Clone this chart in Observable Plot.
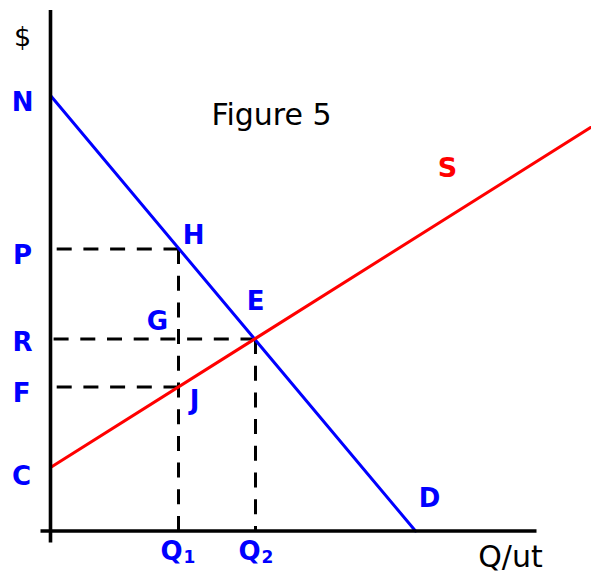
<!DOCTYPE html>
<html>
<head>
<meta charset="utf-8">
<script src="https://cdn.jsdelivr.net/npm/d3@7"></script>
<script src="https://cdn.jsdelivr.net/npm/@observablehq/plot@0.6"></script>
<style>
  html, body { margin: 0; padding: 0; background: #fff; }
</style>
</head>
<body>
<div id="chart"></div>
<script>
// Economic values (price in $, quantity in units/time)
const demandQ = [0, 36.5];
const demandP = [43.55, 0];
const supplyQ = [0, 54];
const supplyP = [6.35, 40.35];
const Q1 = 12.8, Q2 = 20.5;
const priceP = 28.2, priceR = 19.2, priceF = 14.4;
const axisMaxP = 52.1, axisMinP = -1.15, axisMinQ = -1, axisMaxQ = 48.6;

const demand = demandQ.map((q, i) => ({q, p: demandP[i]}));
const supply = supplyQ.map((q, i) => ({q, p: supplyP[i]}));

const dashed = [
  {x1: Q1, y1: priceP, x2: 0, y2: priceP},
  {x1: Q1, y1: priceP, x2: Q1, y2: 0},
  {x1: Q2, y1: priceR, x2: 0, y2: priceR},
  {x1: Q2, y1: priceR, x2: Q2, y2: 0},
  {x1: Q1, y1: priceF, x2: 0, y2: priceF}
];

const axes = [
  {x1: 0, y1: axisMaxP, x2: 0, y2: axisMinP},
  {x1: axisMinQ, y1: 0, x2: axisMaxQ, y2: 0}
];

// label anchors (data units) with pixel offsets
const blueLabels = [
  {t: "N", x: 0, y: demandP[0], dx: -28, dy: 7},
  {t: "P", x: 0, y: priceP, dx: -28, dy: 7},
  {t: "R", x: 0, y: priceR, dx: -28, dy: 4},
  {t: "F", x: 0, y: priceF, dx: -29, dy: 7},
  {t: "C", x: 0, y: supplyP[0], dx: -29, dy: 9},
  {t: "H", x: Q1, y: priceP, dx: 15, dy: -13},
  {t: "E", x: Q2, y: priceR, dx: 0, dy: -37},
  {t: "G", x: Q1, y: priceR, dx: -21, dy: -17},
  {t: "J", x: Q1, y: priceF, dx: 16, dy: 14},
  {t: "D", x: demandQ[1], y: 0, dx: 14, dy: -32},
  {t: "Q", x: Q1, y: 0, dx: -7, dy: 21},
  {t: "Q", x: Q2, y: 0, dx: -6, dy: 21}
];
const subLabels = [
  {t: "1", x: Q1, y: 0, dx: 11, dy: 27},
  {t: "2", x: Q2, y: 0, dx: 12, dy: 27}
];
const redLabels = [
  {t: "S", x: supplyQ[1], y: supplyP[1], dx: -143, dy: 41}
];
const blackLabels = [
  {t: "$", x: 0, y: axisMaxP, dx: -28, dy: 27, s: 27},
  {t: "Q/ut", x: 46, y: 0, dx: 0, dy: 26, s: 30},
  {t: "Figure 5", x: 22.1, y: 41.6, dx: 0, dy: 0, s: 30}
];

// 1 data unit = 10 px on both axes
const PX = 10;
const lx = d => d.x + d.dx / PX;
const ly = d => d.y - d.dy / PX;

const chart = Plot.plot({
  width: 591,
  height: 572,
  margin: 0,
  style: {background: "#fff", fontFamily: "DejaVu Sans"},
  x: {domain: [0, 54.1], range: [50, 591], axis: null},
  y: {domain: [0, 53.05], range: [530.5, 0], axis: null},
  marks: [
    Plot.link(dashed, {x1: "x1", y1: "y1", x2: "x2", y2: "y2", stroke: "black", strokeWidth: 3, strokeDasharray: "15,11.7"}),
    Plot.line(demand, {x: "q", y: "p", stroke: "#0000ff", strokeWidth: 3}),
    Plot.line(supply, {x: "q", y: "p", stroke: "#ff0000", strokeWidth: 3}),
    Plot.link(axes, {x1: "x1", y1: "y1", x2: "x2", y2: "y2", stroke: "black", strokeWidth: 3.6}),
    Plot.text(blueLabels, {x: lx, y: ly, text: "t", fill: "#0000ff", fontSize: 26, fontWeight: "bold"}),
    Plot.text(subLabels, {x: lx, y: ly, text: "t", fill: "#0000ff", fontSize: 17, fontWeight: "bold"}),
    Plot.text(redLabels, {x: lx, y: ly, text: "t", fill: "#ff0000", fontSize: 27, fontWeight: "bold"}),
    ...blackLabels.map(d => Plot.text([d], {x: lx, y: ly, text: "t", fill: "black", fontSize: d.s}))
  ]
});
document.getElementById("chart").appendChild(chart);
</script>
</body>
</html>
